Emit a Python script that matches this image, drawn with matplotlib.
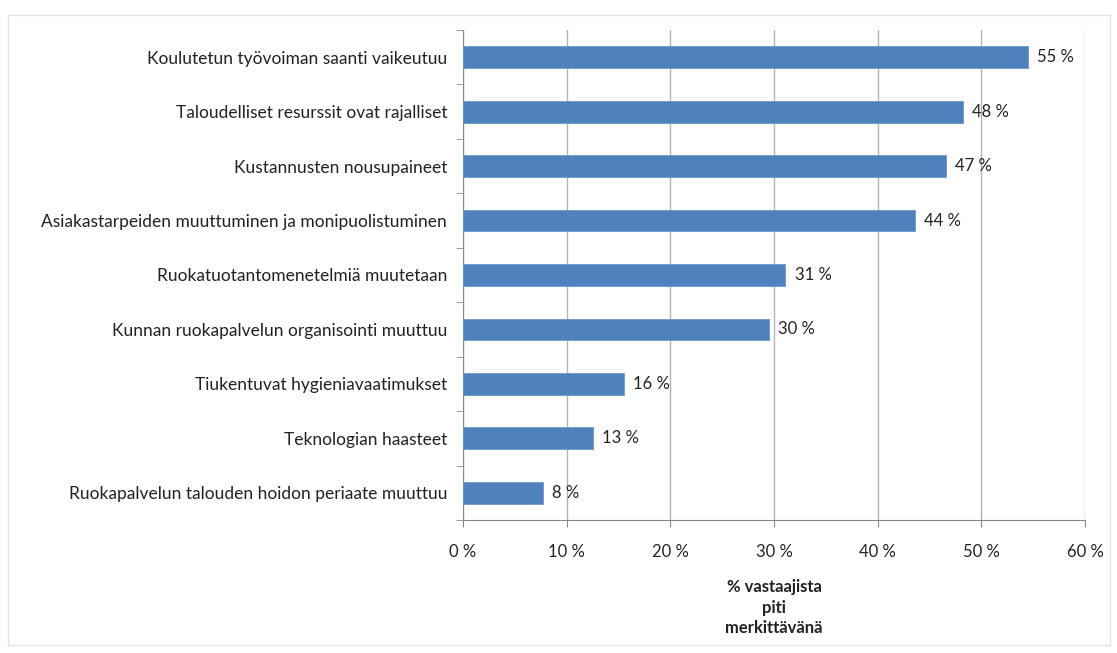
import matplotlib.pyplot as plt
from matplotlib.patches import Rectangle

plt.rcParams['font.family'] = ['Lato', 'DejaVu Sans']

categories = [
    "Koulutetun työvoiman saanti vaikeutuu",
    "Taloudelliset resurssit ovat rajalliset",
    "Kustannusten nousupaineet",
    "Asiakastarpeiden muuttuminen ja monipuolistuminen",
    "Ruokatuotantomenetelmiä muutetaan",
    "Kunnan ruokapalvelun organisointi muuttuu",
    "Tiukentuvat hygieniavaatimukset",
    "Teknologian haasteet",
    "Ruokapalvelun talouden hoidon periaate muuttuu",
]
values = [54.5, 48.2, 46.6, 43.6, 31.1, 29.5, 15.5, 12.5, 7.7]
value_labels = ["55 %", "48 %", "47 %", "44 %", "31 %", "30 %", "16 %", "13 %", "8 %"]
xticks = [0, 10, 20, 30, 40, 50, 60]
xtick_labels = ["0 %", "10 %", "20 %", "30 %", "40 %", "50 %", "60 %"]

fig = plt.figure(figsize=(11.17, 6.53), dpi=100)
ax = fig.add_axes([463 / 1117, 1 - 520 / 653, (1085 - 463) / 1117, (520 - 30) / 653])

# outer frame of the chart
fig.patches.append(Rectangle((8 / 1117, 8 / 653), 1102 / 1117, 630 / 653,
                             transform=fig.transFigure, fill=False,
                             edgecolor='#e4e4e4', linewidth=1))

y = list(range(len(categories)))
ax.barh(y, values, height=0.4, color='#4f81bd', edgecolor='#6f97c8', linewidth=0.6, zorder=3)
for yi, v, lab in zip(y, values, value_labels):
    ax.text(v + 0.9, yi, lab, va='center', ha='left', fontsize=12, color='#222222')

ax.set_ylim(len(categories) - 0.5, -0.5)
ax.set_xlim(0, 60)
ax.set_yticks(y)
ax.set_yticklabels(categories, fontsize=12.5, color='#222222')
ax.set_yticks([i + 0.5 for i in range(-1, len(categories))], minor=True)
ax.tick_params(axis='y', which='major', length=0, pad=11.5)
ax.tick_params(axis='y', which='minor', length=5, color='#888888')
ax.set_xticks(xticks)
ax.set_xticklabels(xtick_labels, fontsize=12, color='#222222')
ax.tick_params(axis='x', length=5, color='#888888', pad=12)

ax.grid(axis='x', color='#b4b4b4', linewidth=1, zorder=0)
ax.set_axisbelow(True)
for s in ['top', 'right']:
    ax.spines[s].set_visible(False)
ax.spines['left'].set_color('#888888')
ax.spines['bottom'].set_color('#888888')

ax.set_xlabel("% vastaajista\npiti\nmerkittävänä", fontsize=12, fontweight='bold',
              color='#222222', labelpad=14, linespacing=1.35)

fig.savefig('out.png', dpi=100)
